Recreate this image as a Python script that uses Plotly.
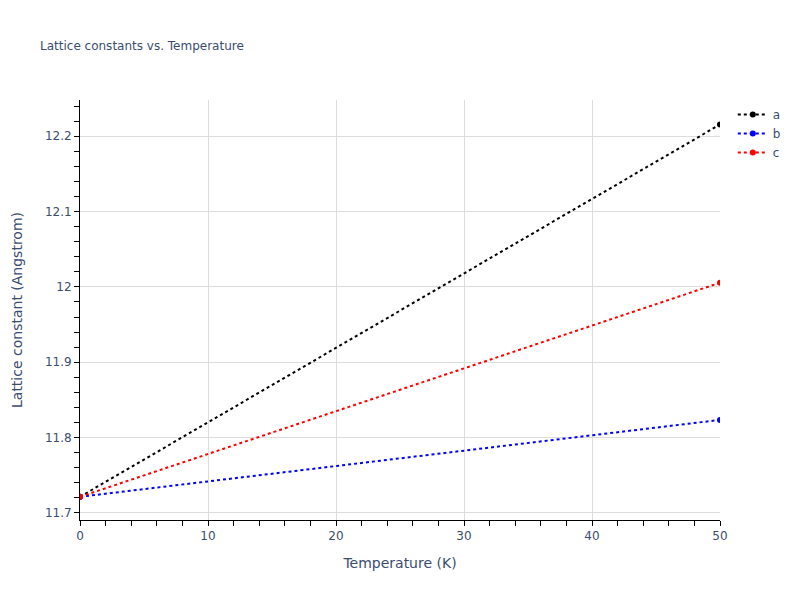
import plotly.graph_objects as go

temperature = [0, 50]
a_vals = [11.7215, 12.2155]
b_vals = [11.7215, 11.8235]
c_vals = [11.7215, 12.0055]
series_names = ["a", "b", "c"]
series_colors = ["black", "blue", "red"]

fig = go.Figure()
for name, vals, col in zip(series_names, [a_vals, b_vals, c_vals], series_colors):
    fig.add_trace(go.Scatter(
        x=temperature, y=vals, name=name, mode="lines+markers",
        line=dict(color=col, width=2, dash="dot"),
        marker=dict(color=col, size=6),
    ))

axis_common = dict(
    showline=True, linecolor="black", linewidth=1,
    ticks="outside", ticklen=5, tickcolor="black",
    showgrid=True, gridcolor="#dddddd", gridwidth=1,
    zeroline=False, mirror=False,
)

fig.update_layout(
    template="plotly_white",
    width=800, height=600,
    title=dict(text="Lattice constants vs. Temperature", font=dict(size=12), x=0.05),
    plot_bgcolor="white", paper_bgcolor="white",
    font=dict(family="DejaVu Sans, Verdana, sans-serif", color="#3b4d6e", size=12),
    xaxis=dict(title=dict(text="Temperature (K)", font=dict(size=14)), range=[0, 50], dtick=10,
               minor=dict(ticks="outside", ticklen=5, dtick=2, tickcolor="black", showgrid=False),
               **axis_common),
    yaxis=dict(title=dict(text="Lattice constant (Angstrom)", font=dict(size=14), standoff=18),
               range=[11.6907, 12.248], dtick=0.1,
               minor=dict(ticks="outside", ticklen=5, dtick=0.02, tickcolor="black", showgrid=False),
               **axis_common),
    legend=dict(font=dict(size=12)),
    margin=dict(l=80, r=80, t=100, b=80),
)

fig.write_html("out.html", config={"displayModeBar": False},
               post_script="document.body.style.margin='0';")
